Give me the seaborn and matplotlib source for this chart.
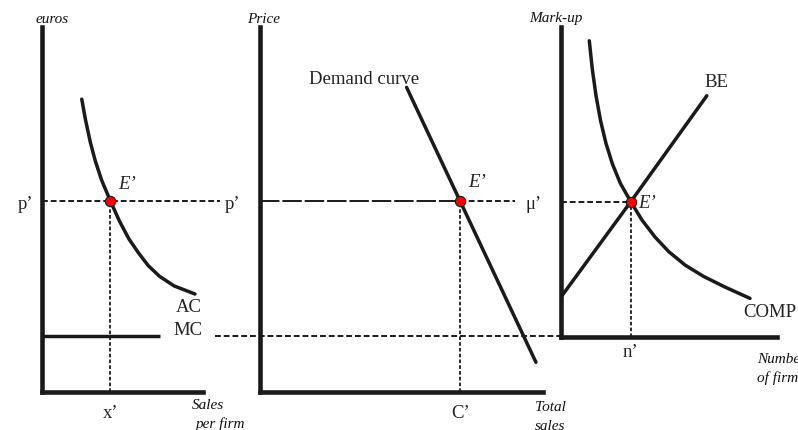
import numpy as np
import pandas as pd
import seaborn as sns
import matplotlib.pyplot as plt

sns.set_theme(style='white')
plt.rcParams['font.family'] = ['Liberation Serif', 'DejaVu Serif']

# equilibrium levels (same price scale in all three panels)
mc = 2.0
p_eq = 6.8
mu_eq = p_eq - mc
x_eq = 4.25
c_eq = 7.07
n_eq = 3.23

# left panel: average cost curve
ac_x = [2.47, 2.7, 3.0, 3.3, 3.7, 4.25, 4.8, 5.4, 6.0, 6.6, 7.3, 8.2, 9.5]
ac_y = [10.43, 9.7, 8.9, 8.25, 7.55, 6.8, 6.1, 5.45, 4.95, 4.5, 4.12, 3.78, 3.49]

# middle panel: demand curve
dem_x = [5.18, 7.07, 9.75]
dem_y = [10.85, 6.8, 1.06]

# right panel: COMP and BE curves
comp_x = [1.31, 1.45, 1.62, 1.83, 2.08, 2.38, 2.75, 3.23, 3.75, 4.35, 5.0, 5.75, 6.6, 7.6, 8.75]
comp_y = [10.51, 9.50, 8.57, 7.68, 6.88, 6.14, 5.45, 4.80, 4.15, 3.55, 3.02, 2.55, 2.15, 1.77, 1.37]
be_x = [0.03, 3.23, 6.75]
be_y = [1.45, 4.8, 8.56]

W, H = 798, 431
fig = plt.figure(figsize=(W / 100, H / 100), dpi=100)


def box(l, t, r, b):
    return [l / W, 1 - b / H, (r - l) / W, (b - t) / H]


ax1 = fig.add_axes(box(42, 28, 203, 393))
ax2 = fig.add_axes(box(260, 28, 543, 393))
ax3 = fig.add_axes(box(561, 28, 777, 338))
ax1.set(xlim=(0, 10), ylim=(0, 13))
ax2.set(xlim=(0, 10), ylim=(0, 13))
ax3.set(xlim=(0, 10), ylim=(0, 11))

for ax in (ax1, ax2, ax3):
    ax.patch.set_alpha(0)
    sns.despine(ax=ax)
    for s in ('left', 'bottom'):
        ax.spines[s].set_linewidth(3.3)
        ax.spines[s].set_color('k')
        ax.spines[s].set_capstyle('projecting')
    ax.tick_params(length=0, labelsize=13.5, labelcolor='#222')

lw = 2.5
short = (0, (3, 1.5))
fine = (0, (2, 1.2))
longd = (0, (10, 1.5))
txt = dict(fontsize=13.5, color='#222', ha='center', va='center')
ital = dict(fontsize=11, style='italic', color='#111', ha='center', va='center')
dot = dict(color='red', s=55, edgecolor='k', linewidth=0.8, zorder=5)

# left panel
sns.lineplot(x=ac_x, y=ac_y, ax=ax1, color='k', lw=lw, sort=False, estimator=None)
ax1.hlines(mc, 0, 7.33, colors='k', lw=lw)
ax1.hlines(p_eq, 0, 11.06, colors='k', lw=1.4, linestyles=[short], clip_on=False)
ax1.vlines(x_eq, 0, p_eq, colors='k', lw=1.3, linestyles=[fine])
sns.scatterplot(x=[x_eq], y=[p_eq], ax=ax1, **dot)
ax1.set_yticks([p_eq], labels=['p’'])
ax1.set_xticks([x_eq], labels=['x’'])
ax1.tick_params(axis='y', pad=6.5)
ax1.tick_params(axis='x', pad=9)
ax1.text(4.72, 7.41, 'E’', fontsize=13.5, style='italic', color='#222', va='center')
ax1.text(9.13, 3.06, 'AC', **txt)
ax1.text(9.07, 2.24, 'MC', **txt)
ax1.text(0.62, 13.32, 'euros', **ital)
ax1.text(10.31, -0.43, 'Sales', **ital)
ax1.text(11.12, -1.1, 'per firm', **ital)

# middle panel
sns.lineplot(x=dem_x, y=dem_y, ax=ax2, color='k', lw=lw, sort=False, estimator=None)
ax2.hlines(mc, -1.59, 10.64, colors='k', lw=1.4, linestyles=[short], clip_on=False)
ax2.hlines(p_eq, 0, c_eq, colors='k', lw=1.4, linestyles=[longd])
ax2.hlines(p_eq, c_eq, 9.0, colors='k', lw=1.4, linestyles=[short])
ax2.vlines(c_eq, 0, p_eq, colors='k', lw=1.3, linestyles=[fine])
sns.scatterplot(x=[c_eq], y=[p_eq], ax=ax2, **dot)
ax2.set_yticks([p_eq], labels=['p’'])
ax2.set_xticks([c_eq], labels=['C’'])
ax2.tick_params(axis='y', pad=14.4)
ax2.tick_params(axis='x', pad=9)
ax2.text(7.35, 7.48, 'E’', fontsize=13.5, style='italic', color='#222', va='center')
ax2.text(3.67, 11.15, 'Demand curve', **txt)
ax2.text(0.14, 13.32, 'Price', **ital)
ax2.text(10.28, -0.53, 'Total', **ital)
ax2.text(10.25, -1.19, 'sales', **ital)

# right panel
sns.lineplot(x=comp_x, y=comp_y, ax=ax3, color='k', lw=lw, sort=False, estimator=None)
sns.lineplot(x=be_x, y=be_y, ax=ax3, color='k', lw=lw, sort=False, estimator=None)
ax3.hlines(mu_eq, 0, n_eq, colors='k', lw=1.4, linestyles=[short])
ax3.vlines(n_eq, 0, mu_eq, colors='k', lw=1.3, linestyles=[fine])
sns.scatterplot(x=[n_eq], y=[mu_eq], ax=ax3, **dot)
ax3.set_yticks([mu_eq], labels=['μ’'])
ax3.set_xticks([n_eq], labels=['n’'])
ax3.tick_params(axis='y', pad=13.7)
ax3.tick_params(axis='x', pad=4)
ax3.text(3.56, 4.79, 'E’', fontsize=13.5, style='italic', color='#222', va='center')
ax3.text(7.2, 9.05, 'BE', **txt)
ax3.text(9.68, 0.92, 'COMP', **txt)
ax3.text(-0.23, 11.32, 'Mark-up', **ital)
ax3.text(9.07, -0.78, 'Number', fontsize=11, style='italic', color='#111', va='center')
ax3.text(9.07, -1.42, 'of firms', fontsize=11, style='italic', color='#111', va='center')

fig.savefig('out.png', dpi=100)
